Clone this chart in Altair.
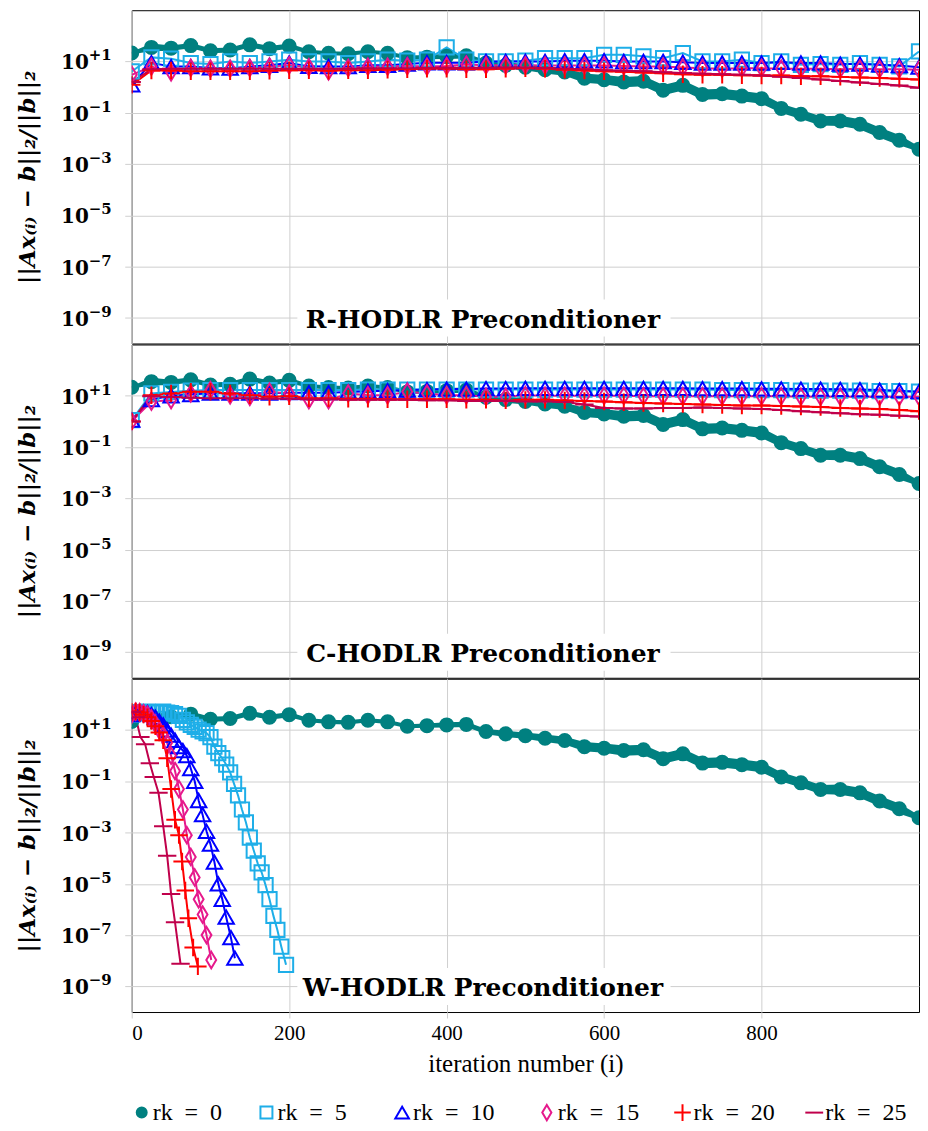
import altair as alt
import pandas as pd

# ---------------- data (log10 of relative residual) -------------
ITER = list(range(0, 1001, 25))

SERIES = ["rk = 0", "rk = 5", "rk = 10", "rk = 15", "rk = 20", "rk = 25"]
COLORS = ["#008080", "#1EAEE8", "#0000FF", "#E6198C", "#FF0000", "#C0004B"]
FILLS = ["#008080", "transparent", "transparent", "transparent", "transparent", "transparent"]
SHAPES = ["circle", "square", "triangle-up", "M0,-1L0.6,0L0,1L-0.6,0Z",
          "M-1,0L1,0M0,-1L0,1", "M-1,0L1,0"]
SIZES = [170, 340, 340, 450, 400, 400]
LEG_SIZES = [100, 320, 300, 330, 300, 170]

TICKS = [1e-9, 1e-7, 1e-5, 1e-3, 1e-1, 1e1]
TICK_EXP = ["\u22129", "\u22127", "\u22125", "\u22123", "\u22121", "+1"]

# rk = 0 (no preconditioner) - identical in all three panels
rk0 = [1.33, 1.55, 1.52, 1.62, 1.42, 1.45, 1.65, 1.50, 1.60, 1.38, 1.32, 1.30, 1.38, 1.32,
       1.15, 1.17, 1.20, 1.22, 0.94, 0.85, 0.78, 0.68, 0.59, 0.35, 0.29, 0.20, 0.23, -0.12,
       0.07, -0.29, -0.26, -0.35, -0.45, -0.83, -1.06, -1.32, -1.32, -1.45, -1.77, -2.07, -2.42]
rk0_spread = [0.05, 0.15, 0.10, 0.10, 0.10, 0.10, 0.10, 0.10, 0.10, 0.08, 0.08, 0.08, 0.08, 0.08,
              0.08, 0.08, 0.10, 0.10, 0.10, 0.12, 0.12, 0.15, 0.15, 0.18, 0.18, 0.20, 0.20, 0.20,
              0.20, 0.20, 0.20, 0.20, 0.20, 0.18, 0.18, 0.18, 0.20, 0.20, 0.20, 0.20, 0.10]

# R-HODLR
r_rk5 = [0.61, 1.16, 1.11, 0.94, 0.90, 1.00, 0.94, 1.00, 1.07, 1.00, 1.00, 0.94, 1.00, 1.07,
         1.03, 1.07, 1.55, 1.07, 1.00, 1.00, 1.03, 1.13, 1.13, 1.13, 1.26, 1.26, 1.20, 1.13,
         1.33, 1.00, 1.00, 1.07, 0.94, 1.00, 0.87, 0.90, 0.87, 0.94, 0.87, 0.81, 1.39]
r_rk10 = [0.09, 0.95, 0.80, 0.80, 0.75, 0.74, 0.80, 0.85, 0.94, 0.81, 0.80, 0.80, 0.85, 0.85,
          0.90, 0.95, 0.95, 0.95, 1.00, 1.00, 1.00, 1.00, 1.03, 1.03, 1.03, 1.00, 1.00, 1.00,
          0.97, 0.94, 0.94, 0.94, 0.94, 0.97, 0.94, 0.94, 0.90, 0.90, 0.87, 0.84, 0.78]
r_rk15 = [0.48, 0.80, 0.58, 0.75, 0.72, 0.72, 0.75, 0.80, 0.85, 0.78, 0.62, 0.75, 0.80, 0.80,
          0.82, 0.80, 0.82, 0.88, 0.85, 0.85, 0.85, 0.84, 0.84, 0.84, 0.84, 0.82, 0.80, 0.80,
          0.77, 0.74, 0.72, 0.74, 0.74, 0.72, 0.72, 0.72, 0.70, 0.72, 0.70, 0.70, 0.68]
r_rk20 = [0.09, 0.65, 0.65, 0.62, 0.62, 0.62, 0.62, 0.64, 0.66, 0.66, 0.64, 0.66, 0.66, 0.68,
          0.70, 0.72, 0.72, 0.70, 0.70, 0.72, 0.74, 0.72, 0.68, 0.65, 0.62, 0.60, 0.57, 0.54,
          0.50, 0.48, 0.48, 0.46, 0.45, 0.45, 0.42, 0.42, 0.40, 0.38, 0.36, 0.33, 0.30]
r_rk25 = [0.20, 0.70, 0.72, 0.72, 0.72, 0.72, 0.72, 0.72, 0.72, 0.72, 0.72, 0.72, 0.74, 0.74,
          0.74, 0.76, 0.76, 0.76, 0.76, 0.77, 0.77, 0.75, 0.72, 0.70, 0.66, 0.64, 0.62, 0.58,
          0.55, 0.52, 0.50, 0.48, 0.45, 0.40, 0.36, 0.30, 0.24, 0.18, 0.12, 0.06, -0.02]

# C-HODLR
c_rk5 = [0.05, 1.09, 1.15, 1.20, 1.22, 1.22, 1.22, 1.22, 1.22, 1.22, 1.22, 1.22, 1.24, 1.24,
         1.24, 1.24, 1.24, 1.24, 1.24, 1.24, 1.24, 1.24, 1.24, 1.24, 1.24, 1.24, 1.24, 1.24,
         1.24, 1.24, 1.22, 1.22, 1.22, 1.22, 1.20, 1.20, 1.20, 1.20, 1.18, 1.18, 1.16]
c_rk10 = [0.05, 0.85, 1.00, 1.05, 1.10, 1.10, 1.10, 1.10, 1.12, 1.12, 1.12, 1.15, 1.18, 1.20,
          1.22, 1.24, 1.26, 1.26, 1.28, 1.28, 1.29, 1.29, 1.29, 1.29, 1.29, 1.29, 1.29, 1.29,
          1.29, 1.28, 1.28, 1.28, 1.27, 1.27, 1.26, 1.26, 1.25, 1.24, 1.22, 1.20, 1.16]
c_rk15 = [0.00, 0.77, 0.83, 1.09, 1.22, 1.02, 0.96, 1.16, 1.09, 0.83, 0.83, 1.09, 1.02, 1.02,
          1.16, 1.09, 1.02, 1.02, 0.96, 0.96, 1.02, 1.00, 1.00, 1.00, 1.00, 1.00, 0.98, 0.98,
          0.98, 0.98, 0.98, 0.98, 0.98, 0.98, 0.96, 0.96, 0.96, 0.96, 0.96, 0.96, 0.96]
c_rk20 = [0.00, 1.02, 1.09, 1.16, 1.16, 1.09, 1.02, 0.96, 0.98, 0.90, 0.90, 0.88, 0.88, 0.86,
          0.86, 0.86, 0.86, 0.84, 0.84, 0.82, 0.84, 0.84, 0.82, 0.80, 0.78, 0.75, 0.72, 0.70,
          0.68, 0.66, 0.64, 0.62, 0.62, 0.60, 0.58, 0.56, 0.52, 0.50, 0.48, 0.44, 0.40]
c_rk25 = [0.00, 0.98, 0.95, 0.92, 0.90, 0.90, 0.90, 0.88, 0.88, 0.86, 0.86, 0.84, 0.84, 0.84,
          0.84, 0.82, 0.82, 0.80, 0.80, 0.80, 0.78, 0.78, 0.76, 0.66, 0.52, 0.50, 0.50, 0.52,
          0.52, 0.54, 0.52, 0.50, 0.48, 0.44, 0.40, 0.36, 0.32, 0.28, 0.26, 0.22, 0.19]

# W-HODLR (own iteration positions)
w_rk5_it = [0, 5, 10, 15, 20, 25, 30, 35, 40, 45, 50, 55, 60, 65, 70, 75, 80, 85, 90, 95,
            100, 105, 110, 115, 120, 125, 130, 135, 140, 145, 150, 155, 160, 165, 170, 175,
            180, 185, 190, 196]
w_rk5 = [1.60, 1.65, 1.70, 1.68, 1.72, 1.70, 1.68, 1.70, 1.72, 1.68, 1.66, 1.62, 1.55, 1.40,
         1.30, 1.20, 1.12, 1.02, 0.95, 0.88, 0.72, 0.35, 0.10, -0.10, -0.35, -0.65, -1.10,
         -1.55, -2.10, -2.60, -3.20, -3.70, -4.20, -4.55, -5.05, -5.60, -6.25, -6.80, -7.45, -8.16]
w_rk10_it = [0, 5, 10, 15, 20, 25, 30, 35, 40, 45, 50, 55, 60, 65, 70, 75, 80, 85, 90, 95,
             100, 105, 110, 115, 120, 126, 131]
w_rk10 = [1.60, 1.70, 1.72, 1.70, 1.68, 1.60, 1.50, 1.35, 1.20, 1.00, 0.80, 0.60, 0.35, 0.20,
          0.00, -0.50, -1.00, -1.75, -2.30, -2.95, -3.45, -4.15, -5.00, -5.60, -6.30, -7.10, -7.90]
w_rk15_it = [0, 5, 10, 15, 20, 25, 30, 35, 40, 45, 50, 55, 60, 65, 70, 75, 80, 85, 90, 95, 101]
w_rk15 = [1.60, 1.72, 1.70, 1.65, 1.60, 1.45, 1.25, 1.00, 0.80, 0.50, 0.00, -0.60, -1.30,
          -2.10, -3.10, -3.95, -4.75, -5.60, -6.20, -7.00, -7.97]
w_rk20_it = [0, 5, 10, 15, 20, 25, 30, 35, 40, 45, 50, 55, 60, 64, 68, 72, 78, 84]
w_rk20 = [1.70, 1.72, 1.68, 1.60, 1.50, 1.35, 1.15, 0.90, 0.60, -0.10, -1.30, -2.50, -3.10,
          -4.13, -5.26, -6.34, -7.48, -8.22]
w_rk25_it = [0, 5, 11, 17, 23, 28, 34, 40, 45, 50, 55, 62]
w_rk25 = [1.70, 1.50, 0.73, 0.45, -0.30, -0.83, -1.45, -2.75, -3.90, -5.40, -6.50, -8.12]

PANELS = ["R", "C", "W"]
TITLES = {"R": "R-HODLR Preconditioner", "C": "C-HODLR Preconditioner",
          "W": "W-HODLR Preconditioner"}

# ---------------- tables ----------------
rows = []


def add(panel, series, its, logs):
    assert len(its) == len(logs), (panel, series)
    for it, lg in zip(its, logs):
        rows.append({"panel": panel, "series": series, "iter": it, "val": 10.0 ** lg})


for p in PANELS:
    add(p, "rk = 0", ITER, rk0)
add("R", "rk = 5", ITER, r_rk5)
add("R", "rk = 10", ITER, r_rk10)
add("R", "rk = 15", ITER, r_rk15)
add("R", "rk = 20", ITER, r_rk20)
add("R", "rk = 25", ITER, r_rk25)
add("C", "rk = 5", ITER, c_rk5)
add("C", "rk = 10", ITER, c_rk10)
add("C", "rk = 15", ITER, c_rk15)
add("C", "rk = 20", ITER, c_rk20)
add("C", "rk = 25", ITER, c_rk25)
add("W", "rk = 5", w_rk5_it, w_rk5)
add("W", "rk = 10", w_rk10_it, w_rk10)
add("W", "rk = 15", w_rk15_it, w_rk15)
add("W", "rk = 20", w_rk20_it, w_rk20)
add("W", "rk = 25", w_rk25_it, w_rk25)
df = pd.DataFrame(rows)
df["order"] = df["series"].map({s: i for i, s in enumerate(SERIES)})

assert len(rk0_spread) == len(rk0)
band_df = pd.DataFrame({
    "iter": ITER,
    "lo": [10.0 ** (v - s) for v, s in zip(rk0, rk0_spread)],
    "hi": [10.0 ** (v + s) for v, s in zip(rk0, rk0_spread)],
})
tick_df = pd.DataFrame({"v": TICKS, "base": ["10"] * len(TICKS), "exp": TICK_EXP})
leg_df = pd.DataFrame({"series": SERIES, "idx": list(range(len(SERIES))),
                       "lab": [s.replace(" ", "\u2002") for s in SERIES], "yy": 0.13})

# ---------------- styling ----------------
GRID = "#cfcfcf"
SERIF = "Liberation Serif"
YTITLE = "||Ax\u208d\u1d62\u208e \u2212 b||\u2082/||b||\u2082"
W, H = 789, 334

stroke_s = alt.Scale(domain=SERIES, range=COLORS)
fill_s = alt.Scale(domain=SERIES, range=FILLS)
shape_s = alt.Scale(domain=SERIES, range=SHAPES)


def y_axis():
    return alt.Axis(
        values=TICKS, labels=False, grid=True, gridColor=GRID, domain=False,
        tickColor=GRID, tickSize=7,
        title=YTITLE, titleFont="DejaVu Serif", titleFontStyle="italic",
        titleFontWeight="bold", titleFontSize=23, titleColor="black", titlePadding=22,
        minExtent=70, maxExtent=70,
    )


def panel(p, bottom):
    d = df[df.panel == p]
    x_axis = alt.Axis(
        values=[0, 200, 400, 600, 800], grid=True, gridColor=GRID, domain=False,
        labels=bottom, ticks=bottom, tickColor=GRID, tickSize=6,
        labelFont=SERIF, labelFontSize=21, labelColor="black", labelPadding=5,
        title="iteration number (i)" if bottom else None,
        titleFont=SERIF, titleFontSize=25, titleFontWeight="normal", titleColor="black",
        titlePadding=8,
    )
    x = alt.X("iter:Q", scale=alt.Scale(domain=[0, 1000], nice=False, zero=False), axis=x_axis)
    yscale = alt.Scale(type="log", domain=[1e-10, 1e3], nice=False)
    ya = y_axis()
    y = alt.Y("val:Q", scale=yscale, axis=ya)

    band = alt.Chart(band_df).mark_area(color=COLORS[0], opacity=1, clip=True).encode(
        x=x, y=alt.Y("lo:Q", scale=yscale, axis=ya), y2="hi:Q")
    lines = alt.Chart(d).mark_line(strokeWidth=2, clip=True).encode(
        x=x, y=y,
        color=alt.Color("series:N", scale=stroke_s, legend=None),
        order=alt.Order("iter:Q"),
    )
    pts = alt.Chart(d).mark_point(opacity=1, strokeWidth=2, clip=True).encode(
        x=x, y=y,
        stroke=alt.Stroke("series:N", scale=stroke_s, legend=None),
        fill=alt.Fill("series:N", scale=fill_s, legend=None),
        shape=alt.Shape("series:N", scale=shape_s, legend=None),
        size=alt.Size("series:N", scale=alt.Scale(domain=SERIES, range=SIZES), legend=None),
        order=alt.Order("order:Q"),
    )
    tl_base = alt.Chart(tick_df).mark_text(
        font="DejaVu Serif", fontSize=20, fontWeight="bold", color="black",
        align="right", baseline="middle", dy=2).encode(
        x=alt.value(-43), y=alt.Y("v:Q", scale=yscale, axis=ya), text="base:N")
    tl_exp = alt.Chart(tick_df).mark_text(
        font="DejaVu Serif", fontSize=15, fontWeight="bold", color="black",
        align="left", baseline="middle", dy=-6).encode(
        x=alt.value(-43), y=alt.Y("v:Q", scale=yscale, axis=ya), text="exp:N")
    tdf = pd.DataFrame({"t": [TITLES[p]]})
    box = alt.Chart(tdf).mark_rect(color="white").encode(
        x=alt.value(166), x2=alt.value(540), y=alt.value(290), y2=alt.value(327))
    txt = alt.Chart(tdf).mark_text(
        font="DejaVu Serif", fontSize=25, fontWeight="bold", color="black",
        align="center", baseline="middle").encode(
        x=alt.value(352), y=alt.value(310), text="t:N")
    return alt.layer(band, lines, pts, box, txt, tl_base, tl_exp).properties(
        width=W, height=H, view=alt.ViewBackground(stroke="black", strokeWidth=1))


# legend row (drawn from the same scales)
lx = alt.X("idx:Q", scale=alt.Scale(domain=[0, 1, 2, 3, 4, 5],
                                    range=[10, 135, 271, 416, 552, 684]), axis=None)
ly = alt.Y("yy:Q", scale=alt.Scale(domain=[0, 1]), axis=alt.Axis(
    labels=False, ticks=False, grid=False, domain=False, title="\u2002",
    titleFont="DejaVu Serif", titleFontSize=23, titleColor="transparent", titlePadding=22,
    minExtent=70, maxExtent=70))
leg_pts = alt.Chart(leg_df).mark_point(opacity=1, strokeWidth=2).encode(
    x=lx, y=ly,
    stroke=alt.Stroke("series:N", scale=stroke_s, legend=None),
    fill=alt.Fill("series:N", scale=fill_s, legend=None),
    shape=alt.Shape("series:N", scale=shape_s, legend=None),
    size=alt.Size("series:N", scale=alt.Scale(domain=SERIES, range=LEG_SIZES), legend=None),
)
leg_txt = alt.Chart(leg_df).mark_text(
    font=SERIF, fontSize=24, color="black", align="left", baseline="middle", dx=11).encode(
    x=lx, y=ly, text="lab:N")
legend_row = alt.layer(leg_pts, leg_txt).properties(
    width=W, height=40, view=alt.ViewBackground(stroke="transparent"))

chart = alt.vconcat(
    panel("R", False), panel("C", False), panel("W", True), legend_row, spacing=-1
).resolve_scale(
    size="independent"
).properties(
    padding={"left": 8, "top": 0, "right": 0, "bottom": 0}
)

chart.save("out.html", embed_options={"renderer": "svg", "actions": False})
